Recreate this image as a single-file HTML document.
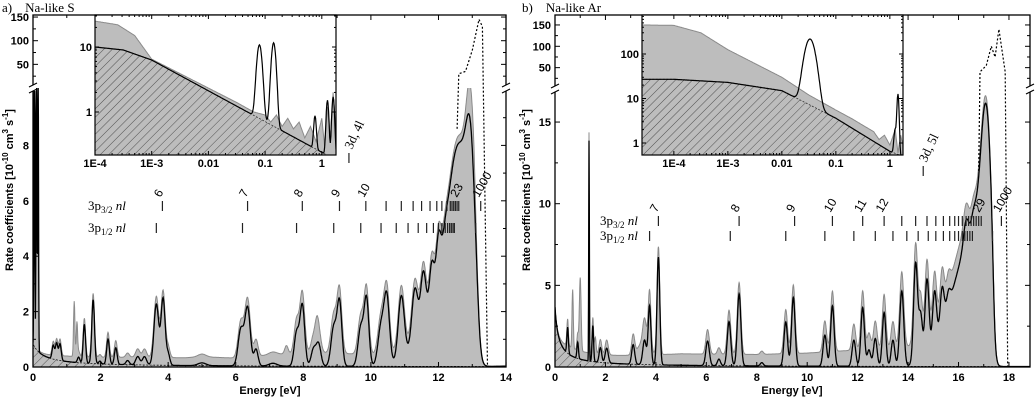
<!DOCTYPE html>
<html><head><meta charset="utf-8"><style>
html,body{margin:0;padding:0;background:#fff;}
svg{display:block;}
.tk{font-family:"Liberation Sans",sans-serif;font-weight:bold;font-size:11px;fill:#000;}
.nm{font-family:"Liberation Sans",sans-serif;font-size:12px;fill:#000;}
.sr{font-family:"Liberation Serif",serif;font-size:13px;fill:#000;}
</style></head><body>
<svg id="fig" width="1035" height="400" xmlns="http://www.w3.org/2000/svg">
<defs>
<pattern id="hatch" patternUnits="userSpaceOnUse" width="6" height="6" patternTransform="rotate(45)"><line x1="0" y1="0" x2="0" y2="6" stroke="#333" stroke-width="0.8"/></pattern>
<clipPath id="clipL"><rect x="33" y="88" width="473" height="279"/></clipPath>
<clipPath id="clipR"><rect x="555" y="89" width="475" height="278"/></clipPath>
<clipPath id="clipLU"><rect x="33" y="15" width="473" height="352"/></clipPath>
<clipPath id="clipRU"><rect x="555" y="15" width="475" height="352"/></clipPath>
<clipPath id="clipIL"><rect x="95" y="15" width="241" height="140"/></clipPath>
<clipPath id="clipIR"><rect x="642" y="15" width="261" height="140"/></clipPath>
</defs>
<text x="2" y="12" class="sr" font-size="14">a)&#160;&#160;&#160; Na-like S</text>
<text x="522" y="12" class="sr" font-size="14">b)&#160;&#160;&#160; Na-like Ar</text>
<text transform="translate(13,190) rotate(-90)" class="tk" font-size="12" text-anchor="middle">Rate coefficients [10<tspan font-size="8" dy="-5">-10</tspan><tspan dy="5"> cm</tspan><tspan font-size="8" dy="-5">3</tspan><tspan dy="5"> s</tspan><tspan font-size="8" dy="-5">-1</tspan><tspan dy="5">]</tspan></text>
<text transform="translate(530,190) rotate(-90)" class="tk" font-size="12" text-anchor="middle">Rate coefficients [10<tspan font-size="8" dy="-5">-10</tspan><tspan dy="5"> cm</tspan><tspan font-size="8" dy="-5">3</tspan><tspan dy="5"> s</tspan><tspan font-size="8" dy="-5">-1</tspan><tspan dy="5">]</tspan></text>
<text x="270" y="394" class="tk" font-size="12" text-anchor="middle">Energy [eV]</text>
<text x="792" y="394" class="tk" font-size="12" text-anchor="middle">Energy [eV]</text>
</svg>
<script>
// ---------- data: panel a (Na-like S) ----------
const aBgAmp = 0.26, aBgOff = 0.31;
const aPeakE = [0.04,0.1,0.15,0.6,0.7,0.8,1.35,1.52,1.78,1.98,2.22,2.45,2.8,3.1,3.3,3.65,3.85,4.0,5.0,6.15,6.35,6.6,7.1,7.8,7.97,8.3,8.45,8.9,9.07,9.7,9.87,10.3,10.47,10.9,11.3,11.55,11.8,12.0,12.2,12.5,12.6,12.95];
const aPeakH = [12,12,12,0.5,0.6,0.6,0.2,1.4,2.3,0.1,0.9,0.6,0.15,0.3,0.3,2.2,2.4,0.4,0.1,1.3,2.1,0.6,0.1,1.2,2.2,0.6,0.8,1.4,2.3,1.4,2.4,1.4,2.4,2.3,2.0,2.0,1.5,1.5,0.3,3.5,4.5,3.7];
const aPeakW = [0.012,0.012,0.012,0.035,0.035,0.035,0.035,0.035,0.04,0.035,0.04,0.04,0.05,0.06,0.06,0.07,0.06,0.05,0.12,0.08,0.08,0.06,0.12,0.07,0.07,0.07,0.07,0.08,0.07,0.08,0.07,0.09,0.08,0.09,0.09,0.08,0.07,0.07,0.07,0.7,0.3,0.13];
const aCut = 13.2;
const aGrayE = [1.22,1.3,7.5,8.4,12.95,13.05];
const aGrayH = [2.0,1.2,0.3,0.5,1.0,0.6];
const aGrayW = [0.02,0.02,0.05,0.05,0.1,0.05];
const aFloorE = [0,0.5,1,3,4.5,5,6,7,8,9,10,12,13.1,13.3,14];
const aFloorV = [0,0.15,0.25,0.35,0.35,0.4,0.35,0.5,0.6,0.6,0.5,0.4,0.3,0,0.05];
const aDotE = [12.55,12.6,12.8,13.0,13.2,13.3,13.45,13.55,14];
const aDotV = [8.6,30,35,80,145,130,0,0,0];
const aX = [0,2,4,6,8,10,12,14];
const aYLow = [0,2,4,6,8];
const aYUp = [50,100,150];
const a32E = [3.83,6.35,7.97,9.07,9.85,10.45,10.9,11.25,11.5,11.75,11.95,12.1,12.25,12.35,12.4,12.45,12.5,12.55,12.6,13.25];
const a32L = ['6','7','8','9','10','','','','','','','','','','','','','','23','1000'];
const a12E = [3.65,6.2,7.8,8.9,9.7,10.3,10.75,11.1,11.4,11.65,11.85,12.0,12.1,12.2,12.27,12.33,12.38,12.43,12.47,13.1];
// inset a (log10 E)
const aiE = [-4,-3.6,-3.3,-3,-1.5,-1.2,-1,-0.9,-0.8,-0.7,-0.6,-0.5,-0.4,-0.3,-0.2,-0.1,0,0.05,0.1,0.15,0.2,0.25];
const aiGray = [25,22,15,6.5,1.4,1.0,0.9,0.7,0.9,0.6,0.8,0.55,0.7,0.4,0.6,0.35,0.8,0.3,1.2,0.4,2.0,0.5];
const aiHatchE = [-4,-3.5,-3,0.08,0.25];
const aiHatchV = [10,9,6.3,0.22,0.2];
const aiPeakE = [-1.1,-0.85,-0.12,0.1,0.2];
const aiPeakH = [10,11,0.6,1.3,1.5];
const aiPeakW = [0.04,0.035,0.02,0.02,0.02];
const aiXL = ['1E-4','1E-3','0.01','0.1','1'];
const aiXV = [-4,-3,-2,-1,0];
const aiYV = [1,10];

// ---------- data: panel b (Na-like Ar) ----------
const bBgAmp = 0.55, bBgOff = 0.15;
const bPeakE = [0.5,0.9,1.35,1.5,1.8,2.05,3.1,3.55,3.75,4.1,6.05,6.5,6.9,7.3,8.2,9.15,9.45,10.7,11.0,11.85,12.2,12.45,12.7,13.05,13.4,13.75,14.3,14.5,14.75,15.05,15.35,15.6,16.3,16.6,17.1];
const bPeakH = [1.6,1.0,13.5,2.2,0.9,0.9,1.2,1.5,3.6,6.6,1.5,0.4,2.7,4.4,0.2,2.7,4.2,1.9,3.7,1.6,3.6,1.0,1.7,3.3,1.6,4.6,6.2,2.8,4.8,3.4,2.5,1.0,1.5,1.0,9.5];
const bPeakW = [0.03,0.03,0.012,0.03,0.05,0.06,0.06,0.07,0.055,0.055,0.07,0.06,0.07,0.07,0.06,0.07,0.07,0.07,0.07,0.07,0.07,0.07,0.07,0.07,0.07,0.08,0.08,0.07,0.08,0.08,0.08,0.08,0.1,0.1,0.22];
const bEnvE = 16.6, bEnvH = 8, bEnvW = 0.8;
const bCut = 17.4;
const bGrayE = [0.7,1.0,1.6,3.5];
const bGrayH = [3.6,4.5,1.0,0.8];
const bGrayW = [0.025,0.035,0.03,0.2];
const bFloorE = [0,0.5,2.5,5,8,10,12,14,16,17.3,17.5,18.8];
const bFloorV = [0,0.5,0.5,0.7,0.7,0.8,1.0,1.2,1.2,0.3,0,0];
const bDotE = [16.8,16.85,17.1,17.3,17.45,17.6,17.85,17.95,18.1,18.8];
const bDotV = [12,40,55,100,75,140,40,0,0,0];
const bX = [0,2,4,6,8,10,12,14,16,18];
const bYLow = [0,5,10,15];
const bYUp = [50,100,150];
const b32E = [4.1,7.3,9.5,11.0,12.2,13.05,13.75,14.3,14.75,15.1,15.4,15.65,15.85,16.0,16.15,16.3,16.4,16.5,16.6,16.7,16.8,16.9,17.7];
const b32L = ['7','8','9','10','11','12','','','','','','','','','','','','','','','','29','1000'];
const b12E = [3.75,6.95,9.15,10.7,11.85,12.7,13.4,13.95,14.4,14.8,15.1,15.4,15.65,15.85,16.0,16.15,16.25,16.35,16.45,16.55,17.35];
const biE = [-4.6,-4,-3.5,-3,-2,-1.5,-1,-0.7,-0.5,-0.3,-0.2,-0.1,0,0.1,0.15,0.2,0.25];
const biGray = [450,440,300,125,30,12,5.5,3.5,2.5,1.8,1.2,1.5,0.9,2,0.6,1.5,0.8];
const biHatchE = [-4.6,-4,-3,-2,-1,0,0.25];
const biHatchV = [27,27,23,15,3.6,0.65,0.5];
const biPeakE = [-1.48,0.1,0.15];
const biPeakH = [210,1.5,12];
const biPeakW = [0.08,0.02,0.015];
const biXL = ['1E-4','1E-3','0.01','0.1','1'];
const biXV = [-4,-3,-2,-1,0];
const biYV = [1,10,100];

// ---------- geometry ----------
const NS = 'http://www.w3.org/2000/svg';
const svg = document.getElementById('fig');
const GA = {x0:33,x1:506,pxe:33.79,y0:367,top:15,ky:27.7,brk:88,kyUp:0.473,xmax:14,clip:'clipL',clipU:'clipLU',fm:0.8};
const GB = {x0:555,x1:1030,pxe:25.22,y0:367,top:15,ky:16.33,brk:89,kyUp:0.427,xmax:18.83,clip:'clipR',clipU:'clipRU',fm:1.0};
const IA = {x0:95,x1:336,y0:15,y1:155,lmin:-4,pxd:56.7,yRef:112,pyd:65,clip:'clipIL'};
const IB = {x0:642,x1:903,y0:15,y1:155,lmin:-4.59,pxd:54,yRef:143,pyd:44.5,clip:'clipIR'};

function mk(tag,parent){const e=document.createElementNS(NS,tag);(parent||svg).appendChild(e);return e;}
function interp(xs,vs,x){if(x<=xs[0])return vs[0];for(let i=1;i<xs.length;i++){if(x<=xs[i]){const t=(x-xs[i-1])/(xs[i]-xs[i-1]);return vs[i-1]+t*(vs[i]-vs[i-1]);}}return vs[vs.length-1];}
function interpLog(xs,vs,x){if(x<=xs[0])return vs[0];for(let i=1;i<xs.length;i++){if(x<=xs[i]){const t=(x-xs[i-1])/(xs[i]-xs[i-1]);return Math.pow(10,Math.log10(vs[i-1])+t*(Math.log10(vs[i])-Math.log10(vs[i-1])));}}return vs[vs.length-1];}
function gsum(E,cs,hs,ws){let s=0;for(let i=0;i<cs.length;i++){const d=E-cs[i];s+=hs[i]*Math.exp(-d*d/(2*ws[i]*ws[i]));}return s;}
function xM(G,E){return G.x0+E*G.pxe;}
function yLow(G,v){const lm=(G.y0-G.brk)/G.ky;return G.y0-Math.min(v,lm+0.3)*G.ky;}
function yBrk(G,v){const lm=(G.y0-G.brk)/G.ky;return v<=lm?G.y0-v*G.ky:Math.min(G.brk,G.brk-v*G.kyUp);}
function pts(arr){return arr.map(p=>p[0].toFixed(1)+','+p[1].toFixed(1)).join(' ');}

function drawMain(G,name,bg,pk,env,cut,gr,fl,dot){
  const g=mk('g');
  
  
  g.setAttribute('clip-path','url(#'+G.clip+')');
  const black=[],gray=[],hatch=[];
  for(let E=0;E<=G.xmax+1e-9;E+=0.01){
    const b=bg[0]/(E+bg[1]);
    let p=gsum(E,pk[0],pk[1],pk[2]);
    if(env)p+=env[1]*Math.exp(-(E-env[0])*(E-env[0])/(2*env[2]*env[2]));
    p*=1/(1+Math.exp((E-cut)/0.05));
    const blk=b+p;
    const gy=blk+gsum(E,gr[0],gr[1],gr[2])+interp(fl[0],fl[1],E)*G.fm;
    black.push([xM(G,E),yLow(G,blk)]);
    gray.push([xM(G,E),yLow(G,gy)]);
    hatch.push([xM(G,E),yLow(G,b)]);
  }
  const gp=mk('polygon',g);
  
  
  gp.setAttribute('points',pts([[G.x0,G.y0]].concat(gray,[[G.x1,G.y0]])));
  gp.setAttribute('fill','#bdbdbd');gp.setAttribute('stroke','#8a8a8a');gp.setAttribute('stroke-width','1');
  const hp=mk('polygon',g);
  
  
  hp.setAttribute('points',pts([[G.x0,G.y0]].concat(hatch,[[G.x1,G.y0]])));
  hp.setAttribute('fill','url(#hatch)');hp.setAttribute('stroke','#111');hp.setAttribute('stroke-width','0.8');hp.setAttribute('stroke-dasharray','2,1.5');
  const bl=mk('polyline',g);
  
  
  bl.setAttribute('points',pts(black));
  bl.setAttribute('fill','none');bl.setAttribute('stroke','#000');bl.setAttribute('stroke-width','1.3');
  const g2=mk('g');
  
  
  g2.setAttribute('clip-path','url(#'+G.clipU+')');
  const dl=mk('polyline',g2);
  
  
  dl.setAttribute('points',pts(dot[0].map((E,i)=>[xM(G,E),yBrk(G,dot[1][i])])));
  dl.setAttribute('fill','none');dl.setAttribute('stroke','#000');dl.setAttribute('stroke-width','1.2');dl.setAttribute('stroke-dasharray','2,2');
}

function line(x1,y1,x2,y2,name,w,col){const l=mk('line');l.setAttribute('x1',x1);l.setAttribute('y1',y1);l.setAttribute('x2',x2);l.setAttribute('y2',y2);l.setAttribute('stroke',col||'#000');l.setAttribute('stroke-width',w||1);
  
  
  return l;}
function txt(x,y,s,name,anchor,cls){const t=mk('text');t.setAttribute('x',x);t.setAttribute('y',y);t.setAttribute('class',cls||'tk');if(anchor)t.setAttribute('text-anchor',anchor);t.textContent=s;
  
  
  return t;}

function drawAxes(G,name,xs,yl,yu,yStep){
  const r=mk('rect');r.setAttribute('x',G.x0);r.setAttribute('y',G.top);r.setAttribute('width',G.x1-G.x0);r.setAttribute('height',G.y0-G.top);r.setAttribute('fill','none');r.setAttribute('stroke','#000');r.setAttribute('stroke-width','1.3');
  
  
  xs.forEach(v=>{const x=xM(G,v);line(x,G.y0,x,G.y0-5,name+'-x-tick');line(x,G.top,x,G.top+5,name+'-x-tick-top');txt(x,381,String(v),name+'-x-tick-label','middle');
    if(v+1<=G.xmax){const xm=xM(G,v+1);line(xm,G.y0,xm,G.y0-3,name+'-x-minor-tick');line(xm,G.top,xm,G.top+3,name+'-x-minor-tick-top');}});
  yl.forEach(v=>{const y=G.y0-v*G.ky;line(G.x0,y,G.x0+5,y,name+'-y-tick');line(G.x1,y,G.x1-5,y,name+'-y-tick-right');txt(G.x0-4,y+4,String(v),name+'-y-tick-label','end');
    const ym=G.y0-(v+yStep/2)*G.ky;if(ym>G.brk+2){line(G.x0,ym,G.x0+3,ym,name+'-y-minor-tick');line(G.x1,ym,G.x1-3,ym,name+'-y-minor-tick-right');}});
  yu.forEach(v=>{const y=G.brk-v*G.kyUp;line(G.x0,y,G.x0+5,y,name+'-y-tick-upper');line(G.x1,y,G.x1-5,y,name+'-y-tick-upper-right');txt(G.x0-4,y+4,String(v),name+'-y-tick-label-upper','end');
    const ym=G.brk-(v-25)*G.kyUp;line(G.x0,ym,G.x0+3,ym,name+'-y-minor-tick-upper');line(G.x1,ym,G.x1-3,ym,name+'-y-minor-tick-upper-right');});
  [G.x0,G.x1].forEach(x=>{const w=mk('rect');w.setAttribute('x',x-3);w.setAttribute('y',G.brk-3);w.setAttribute('width',6);w.setAttribute('height',6);w.setAttribute('fill','#fff');
    
    
    line(x-4,G.brk-1,x+4,G.brk-5,name+'-axis-break-mark',1.2);line(x-4,G.brk+5,x+4,G.brk+1,name+'-axis-break-mark',1.2);});
}

function rot(x,y,s,name,ang,cls){const t=txt(x,y,s,name,null,cls);t.setAttribute('transform','rotate('+ang+' '+x+' '+y+')');return t;}

function drawSeries(G,name,e32,l32,e12,y32,y12,tx){
  e32.forEach((E,i)=>{const x=xM(G,E);line(x,y32,x,y32+10,name+'-3p32-marker',1.2,'#222');if(l32[i])rot(x-2,y32-3,l32[i],name+'-n-label',-60,'nm');});
  e12.forEach(E=>{const x=xM(G,E);line(x,y12,x,y12+10,name+'-3p12-marker',1.2,'#222');});
  const t1=txt(tx,y32+9,'3p','series-label-3p32',null,'sr');
  const s1=mk('tspan',t1);s1.setAttribute('font-size','9');s1.setAttribute('dy','3');s1.textContent='3/2';
  const s2=mk('tspan',t1);s2.setAttribute('dy','-3');s2.setAttribute('font-style','italic');s2.textContent=' nl';
  const t2=txt(tx,y12+9,'3p','series-label-3p12',null,'sr');
  const s3=mk('tspan',t2);s3.setAttribute('font-size','9');s3.setAttribute('dy','3');s3.textContent='1/2';
  const s4=mk('tspan',t2);s4.setAttribute('dy','-3');s4.setAttribute('font-style','italic');s4.textContent=' nl';
}

function drawInset(I,name,gE,gV,hE,hV,pE,pH,pW,xl,xv,yv){
  const X=l=>I.x0+(l-I.lmin)*I.pxd;
  const Y=v=>I.yRef-Math.log10(Math.max(v,1e-3))*I.pyd;
  const bgr=mk('rect');bgr.setAttribute('x',I.x0);bgr.setAttribute('y',I.y0);bgr.setAttribute('width',I.x1-I.x0);bgr.setAttribute('height',I.y1-I.y0);bgr.setAttribute('fill','#fff');
  
  
  const g=mk('g');
  
  
  g.setAttribute('clip-path','url(#'+I.clip+')');
  const lmax=I.lmin+(I.x1-I.x0)/I.pxd;
  const gray=[],hat=[],blk=[];
  for(let l=I.lmin;l<=lmax+0.005;l+=0.01){
    const h=interpLog(hE,hV,l);
    gray.push([X(l),Y(interpLog(gE,gV,l))]);
    hat.push([X(l),Y(h)]);
    blk.push([X(l),Y(h+gsum(l,pE,pH,pW))]);
  }
  const gp=mk('polygon',g);
  
  
  gp.setAttribute('points',pts([[I.x0,I.y1+5]].concat(gray,[[I.x1,I.y1+5]])));gp.setAttribute('fill','#bdbdbd');gp.setAttribute('stroke','#8a8a8a');
  const hp=mk('polygon',g);
  
  
  hp.setAttribute('points',pts([[I.x0,I.y1+5]].concat(hat,[[I.x1,I.y1+5]])));hp.setAttribute('fill','url(#hatch)');hp.setAttribute('stroke','#333');hp.setAttribute('stroke-width','0.8');hp.setAttribute('stroke-dasharray','2,1.5');
  const bl=mk('polyline',g);
  
  
  bl.setAttribute('points',pts(blk));bl.setAttribute('fill','none');bl.setAttribute('stroke','#000');bl.setAttribute('stroke-width','1.2');
  const fr=mk('rect');fr.setAttribute('x',I.x0);fr.setAttribute('y',I.y0);fr.setAttribute('width',I.x1-I.x0);fr.setAttribute('height',I.y1-I.y0);fr.setAttribute('fill','none');fr.setAttribute('stroke','#000');fr.setAttribute('stroke-width','1.2');
  
  
  xv.forEach((l,i)=>{const x=X(l);line(x,I.y1,x,I.y1-4,name+'-x-tick');line(x,I.y0,x,I.y0+4,name+'-x-tick-top');txt(x,I.y1+12,xl[i],name+'-x-tick-label','middle');
    for(let k=2;k<10;k++){const xm=X(l+Math.log10(k));if(xm<I.x1){line(xm,I.y1,xm,I.y1-2,name+'-x-minor-tick');line(xm,I.y0,xm,I.y0+2,name+'-x-minor-tick-top');}}});
  yv.forEach(v=>{const y=Y(v);line(I.x0,y,I.x0+4,y,name+'-y-tick');line(I.x1,y,I.x1-4,y,name+'-y-tick-right');txt(I.x0-3,y+4,String(v),name+'-y-tick-label','end');
    for(let k=2;k<10;k++){const ym=Y(v*k);if(ym>I.y0&&ym<I.y1){line(I.x0,ym,I.x0+2,ym,name+'-y-minor-tick');line(I.x1,ym,I.x1-2,ym,name+'-y-minor-tick-right');}}});
}

drawMain(GA,'panel-a',[aBgAmp,aBgOff],[aPeakE,aPeakH,aPeakW],null,aCut,[aGrayE,aGrayH,aGrayW],[aFloorE,aFloorV],[aDotE,aDotV]);
drawMain(GB,'panel-b',[bBgAmp,bBgOff],[bPeakE,bPeakH,bPeakW],[bEnvE,bEnvH,bEnvW],bCut,[bGrayE,bGrayH,bGrayW],[bFloorE,bFloorV],[bDotE,bDotV]);
drawAxes(GA,'panel-a',aX,aYLow,aYUp,2);
drawAxes(GB,'panel-b',bX,bYLow,bYUp,5);
drawSeries(GA,'panel-a',a32E,a32L,a12E,201,223,88);
drawSeries(GB,'panel-b',b32E,b32L,b12E,216,231,600);
line(xM(GA,9.35),153,xM(GA,9.35),163,'panel-a-3d4l-marker',1.2,'#222');
rot(xM(GA,9.35)+3,150,'3d, 4l','panel-a-3d4l-label',-65,'sr');
line(xM(GB,14.6),166,xM(GB,14.6),176,'panel-b-3d5l-marker',1.2,'#222');
rot(xM(GB,14.6)+3,163,'3d, 5l','panel-b-3d5l-label',-65,'sr');
drawInset(IA,'inset-a',aiE,aiGray,aiHatchE,aiHatchV,aiPeakE,aiPeakH,aiPeakW,aiXL,aiXV,aiYV);
drawInset(IB,'inset-b',biE,biGray,biHatchE,biHatchV,biPeakE,biPeakH,biPeakW,biXL,biXV,biYV);
</script>
</body></html>
